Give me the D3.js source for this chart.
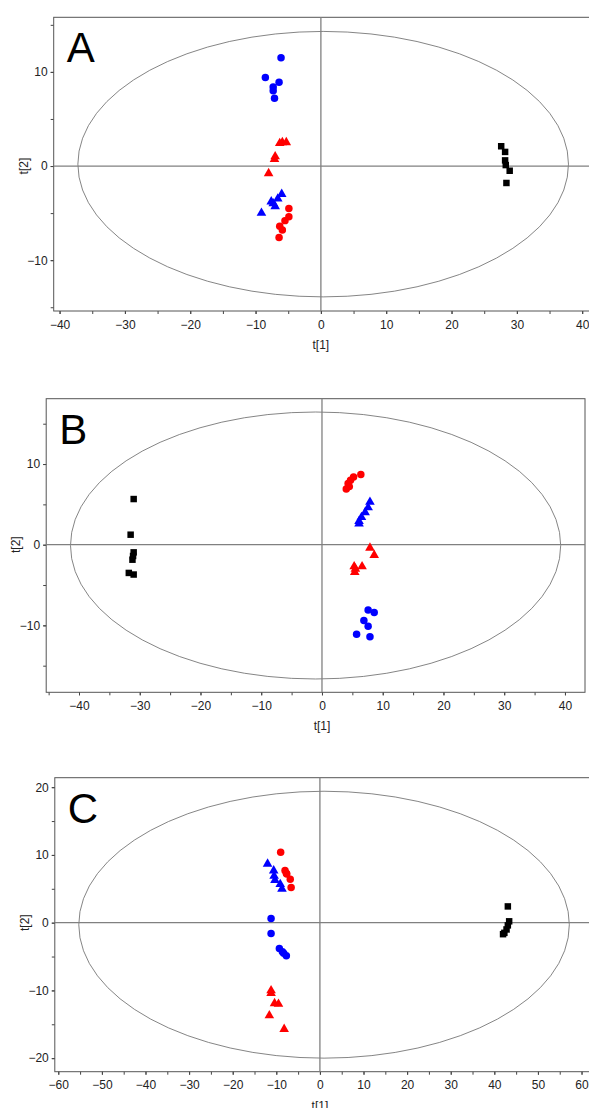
<!DOCTYPE html>
<html>
<head>
<meta charset="utf-8">
<script src="https://cdn.jsdelivr.net/npm/d3@7"></script>
<style>
  body { margin: 0; background: #fff; }
  svg { display: block; }
  .tick text { font-family: "Liberation Sans", Arial, sans-serif; font-size: 12px; fill: #222; }
  .tick line { stroke: #444; }
</style>
</head>
<body>
<svg id="chart" width="589" height="1108"></svg>
<script>
// ---- data (t[1], t[2]) ----
var aBlueCircles  = [[-6.1, 11.5], [-8.5, 9.4], [-6.4, 8.9], [-7.3, 8.4], [-7.3, 8.0], [-7.1, 7.2]];
var aRedTriangles = [[-5.9, 2.6], [-5.3, 2.6], [-6.3, 2.5], [-7.0, 1.1], [-7.1, 0.8], [-8.0, -0.7]];
var aBlueTriangles = [[-6.0, -2.9], [-6.6, -3.4], [-7.6, -3.7], [-7.0, -4.2], [-7.3, -3.9], [-9.1, -4.9]];
var aRedCircles   = [[-4.9, -4.5], [-4.9, -5.4], [-5.5, -5.8], [-6.3, -6.4], [-5.9, -6.8], [-6.4, -7.6]];
var aBlackSquares = [[27.6, 2.1], [28.2, 1.5], [28.2, 0.6], [28.3, 0.1], [28.9, -0.5], [28.4, -1.8]];

var bRedCircles   = [[6.4, 8.7], [5.2, 8.4], [4.7, 8.0], [4.3, 7.6], [4.5, 7.2], [4.0, 6.9]];
var bBlueTriangles = [[7.9, 5.4], [7.6, 4.7], [7.1, 4.1], [6.5, 3.5], [6.1, 3.0], [6.1, 2.7]];
var bRedTriangles = [[7.9, -0.3], [8.6, -1.2], [5.3, -2.6], [6.6, -2.6], [5.4, -3.3], [5.5, -2.9]];
var bBlueCircles  = [[7.6, -8.1], [8.6, -8.4], [6.9, -9.4], [7.6, -10.1], [5.7, -11.1], [7.9, -11.4]];
var bBlackSquares = [[-31.0, 5.66], [-31.5, 1.24], [-31.0, -0.95], [-31.1, -1.4], [-31.2, -1.86], [-31.8, -3.5], [-31.0, -3.7]];

var cRedCircles   = [[-9.0, 10.4], [-8.0, 7.7], [-7.7, 7.3], [-7.6, 7.2], [-6.8, 6.4], [-6.6, 5.2]];
var cBlueTriangles = [[-12.0, 8.8], [-10.6, 7.8], [-10.5, 7.0], [-10.3, 6.4], [-9.1, 5.8], [-8.7, 5.1]];
var cBlueCircles  = [[-11.2, 0.6], [-11.2, -1.6], [-9.3, -3.8], [-8.6, -4.3], [-8.3, -4.5], [-7.7, -4.9]];
var cRedTriangles = [[-11.2, -9.9], [-11.2, -10.3], [-10.4, -11.8], [-9.5, -11.9], [-11.6, -13.6], [-8.2, -15.6]];
var cBlackSquares = [[43.1, 2.4], [43.4, 0.2], [43.1, -0.4], [42.8, -1.0], [42.3, -1.5], [42.0, -1.7]];

// axis limits and tick labels
var aXLimits = [-40.9, 41.5], aYLimits = [-15.4, 15.8];
var bXLimits = [-45.4, 43.3], bYLimits = [-18.3, 18.1];
var cXLimits = [-60.8, 62.4], cYLimits = [-22.0, 21.4];
var abXTicks = [-40, -30, -20, -10, 0, 10, 20, 30, 40];
var abYTicks = [-10, 0, 10];
var cXTicks = [-60, -50, -40, -30, -20, -10, 0, 10, 20, 30, 40, 50, 60];
var cYTicks = [-20, -10, 0, 10, 20];

// Hotelling T2 ellipse: [cx, cy, rx, ry]
var aEllipse = [0.35, 0.2, 37.55, 14.1];
var bEllipse = [-1.05, -0.1, 40.35, 16.55];
var cEllipse = [0.95, -0.3, 56.25, 19.7];

var panels = [
  { letter: "A", box: [53.7, 592, 17.3, 311], xl: aXLimits, yl: aYLimits, xt: abXTicks, yt: abYTicks, ell: aEllipse,
    groups: [[aBlackSquares, "square", "#000"], [aBlueCircles, "circle", "#0000ff"], [aRedCircles, "circle", "#ff0000"],
             [aBlueTriangles, "triangle", "#0000ff"], [aRedTriangles, "triangle", "#ff0000"]] },
  { letter: "B", box: [46.2, 585, 398.7, 692.3], xl: bXLimits, yl: bYLimits, xt: abXTicks, yt: abYTicks, ell: bEllipse,
    groups: [[bBlackSquares, "square", "#000"], [bBlueCircles, "circle", "#0000ff"], [bRedCircles, "circle", "#ff0000"],
             [bBlueTriangles, "triangle", "#0000ff"], [bRedTriangles, "triangle", "#ff0000"]] },
  { letter: "C", box: [54.8, 592, 777.7, 1071.7], xl: cXLimits, yl: cYLimits, xt: cXTicks, yt: cYTicks, ell: cEllipse,
    groups: [[cBlackSquares, "square", "#000"], [cBlueCircles, "circle", "#0000ff"], [cRedCircles, "circle", "#ff0000"],
             [cBlueTriangles, "triangle", "#0000ff"], [cRedTriangles, "triangle", "#ff0000"]] }
];

var svg = d3.select("#chart");
var font = "'Liberation Sans', Arial, sans-serif";
var shapes = { circle: [d3.symbolCircle, 44], triangle: [d3.symbolTriangle, 40], square: [d3.symbolSquare, 42] };

panels.forEach(function (p) {
  var x = d3.scaleLinear().domain(p.xl).range([p.box[0], p.box[1]]);
  var y = d3.scaleLinear().domain(p.yl).range([p.box[3], p.box[2]]);
  var g = svg.append("g");

  // minor ticks every 5 units
  var xMinor = d3.range(Math.ceil(p.xl[0] / 5) * 5, p.xl[1], 5);
  var yMinor = d3.range(Math.ceil(p.yl[0] / 5) * 5, p.yl[1], 5);

  g.append("g").attr("transform", "translate(0," + p.box[3] + ")")
    .call(d3.axisBottom(x).tickValues(xMinor).tickSize(3).tickSizeOuter(0).tickFormat(""))
    .select(".domain").remove();
  g.append("g").attr("transform", "translate(" + p.box[0] + ",0)")
    .call(d3.axisLeft(y).tickValues(yMinor).tickSize(3).tickSizeOuter(0).tickFormat(""))
    .select(".domain").remove();

  var xa = g.append("g").attr("transform", "translate(0," + p.box[3] + ")")
    .call(d3.axisBottom(x).tickValues(p.xt).tickSize(3).tickPadding(6).tickSizeOuter(0));
  xa.select(".domain").remove();
  var ya = g.append("g").attr("transform", "translate(" + p.box[0] + ",0)")
    .call(d3.axisLeft(y).tickValues(p.yt).tickSize(3).tickPadding(3).tickSizeOuter(0));
  ya.select(".domain").remove();

  // plot frame
  g.append("rect")
    .attr("x", p.box[0]).attr("y", p.box[2])
    .attr("width", p.box[1] - p.box[0]).attr("height", p.box[3] - p.box[2])
    .attr("fill", "none").attr("stroke", "#555").attr("stroke-width", 1);

  // ellipse
  g.append("ellipse")
    .attr("cx", x(p.ell[0])).attr("cy", y(p.ell[1]))
    .attr("rx", x(p.ell[2]) - x(0)).attr("ry", y(0) - y(p.ell[3]))
    .attr("fill", "none").attr("stroke", "#666").attr("stroke-width", 0.8);

  // zero lines
  g.append("line").attr("x1", x(0)).attr("x2", x(0)).attr("y1", p.box[2]).attr("y2", p.box[3])
    .attr("stroke", "#808080").attr("stroke-width", 1.3);
  g.append("line").attr("x1", p.box[0]).attr("x2", p.box[1]).attr("y1", y(0)).attr("y2", y(0))
    .attr("stroke", "#808080").attr("stroke-width", 1.3);

  // points
  p.groups.forEach(function (grp) {
    var sym = d3.symbol().type(shapes[grp[1]][0]).size(shapes[grp[1]][1]);
    g.selectAll(null).data(grp[0]).enter().append("path")
      .attr("d", sym)
      .attr("transform", function (d) {
        var dy = grp[1] === "triangle" ? 0.8 : 0;
        return "translate(" + x(d[0]) + "," + (y(d[1]) + dy) + ")";
      })
      .attr("fill", grp[2]);
  });

  // panel letter
  g.append("text").attr("x", p.box[0] + 13).attr("y", p.box[2] + 45)
    .attr("font-family", font).attr("font-size", 42).attr("fill", "#000").text(p.letter);

  // axis titles
  g.append("text").attr("x", x(0)).attr("y", p.box[3] + 38)
    .attr("text-anchor", "middle").attr("font-family", font).attr("font-size", 12).attr("fill", "#222").text("t[1]");
  g.append("text")
    .attr("transform", "translate(" + (p.box[0] - 26) + "," + y(0) + ") rotate(-90)")
    .attr("text-anchor", "middle").attr("font-family", font).attr("font-size", 12).attr("fill", "#222").text("t[2]");
});
</script>
</body>
</html>
